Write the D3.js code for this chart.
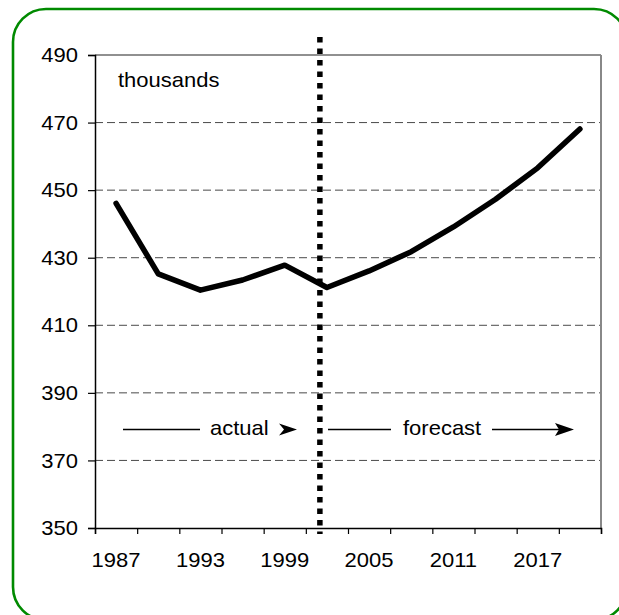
<!DOCTYPE html>
<html>
<head>
<meta charset="utf-8">
<script src="https://cdn.jsdelivr.net/npm/d3@7"></script>
<style>
  html, body { margin: 0; padding: 0; background: #fff; overflow: hidden; }
  svg { display: block; font-family: "Liberation Sans", Arial, sans-serif; }
</style>
</head>
<body>
<svg id="chart" width="619" height="615"></svg>
<script>
// Population, thousands: actual to 2002, forecast afterwards
const years  = [1987, 1990, 1993, 1996, 1999, 2002, 2005, 2008, 2011, 2014, 2017, 2020];
const values = [446.1, 425.2, 420.4, 423.4, 427.8, 421.2, 426.1, 431.8, 439.1, 447.3, 456.6, 468.1];
const yTicks = [350, 370, 390, 410, 430, 450, 470, 490];
const xLabels = [1987, 1993, 1999, 2005, 2011, 2017];
const splitYear = 2001.5;
const unitLabel = "thousands";
const periodLabels = ["actual", "forecast"];

const svg = d3.select("#chart");
const plot = { left: 95, right: 601, top: 55, bottom: 528 };
const step = 3; // years per category slot

const x = d3.scaleLinear()
  .domain([years[0] - step / 2, years[years.length - 1] + step / 2])
  .range([plot.left, plot.right]);
const y = d3.scaleLinear().domain([350, 490]).range([plot.bottom, plot.top]);

const FONT = 20, STRETCH = 1.1;
function label(px, py, str, anchor, baseline) {
  const g = svg.append("g").attr("transform", `translate(${px},${py}) scale(${STRETCH},1)`);
  g.append("text")
    .attr("text-anchor", anchor || "start")
    .attr("dominant-baseline", baseline || "alphabetic")
    .attr("font-size", FONT)
    .attr("fill", "#000")
    .text(str);
  return g;
}

// rounded green frame; its right and bottom edges run off the page
const fr = { l: 13, t: 9, r: 627, b: 620, rad: 33 };
svg.append("path")
  .attr("d", `M${fr.l},${fr.t + fr.rad}
              A${fr.rad},${fr.rad} 0 0 1 ${fr.l + fr.rad},${fr.t}
              L${fr.r - fr.rad},${fr.t}
              A${fr.rad},${fr.rad} 0 0 1 ${fr.r},${fr.t + fr.rad}
              L${fr.r},${fr.b - fr.rad}
              A${fr.rad},${fr.rad} 0 0 1 ${fr.r - fr.rad},${fr.b}
              L${fr.l + fr.rad},${fr.b}
              A${fr.rad},${fr.rad} 0 0 1 ${fr.l},${fr.b - fr.rad} Z`)
  .attr("fill", "none").attr("stroke", "#008a00").attr("stroke-width", 2.6);

// dashed gridlines
svg.append("g").selectAll("line")
  .data(yTicks.filter(d => d > 350 && d < 490))
  .join("line")
  .attr("x1", plot.left).attr("x2", plot.right)
  .attr("y1", d => y(d)).attr("y2", d => y(d))
  .attr("stroke", "#4a4a4a").attr("stroke-width", 1)
  .attr("stroke-dasharray", "8,4");

// plot frame: top and right edges
svg.append("line")
  .attr("x1", plot.left).attr("x2", plot.right)
  .attr("y1", y(490)).attr("y2", y(490))
  .attr("stroke", "#222").attr("stroke-width", 1.2);
svg.append("line")
  .attr("x1", plot.right).attr("x2", plot.right)
  .attr("y1", y(490)).attr("y2", y(350))
  .attr("stroke", "#888").attr("stroke-width", 2);

// y axis
const yAxis = svg.append("g")
  .attr("transform", `translate(${plot.left},0)`)
  .call(d3.axisLeft(y).tickValues(yTicks).tickSize(7).tickFormat(""));
yAxis.select(".domain").attr("stroke", "#000").attr("stroke-width", 1.5);
yAxis.selectAll(".tick line").attr("stroke", "#000").attr("stroke-width", 1.2);
yTicks.forEach(v => label(78, y(v), String(v), "end", "central"));

// x axis: ticks on slot boundaries, labels every other slot
const bounds = d3.range(years.length + 1).map(i => years[0] - step / 2 + i * step);
const xAxis = svg.append("g")
  .attr("transform", `translate(0,${plot.bottom})`)
  .call(d3.axisBottom(x).tickValues(bounds).tickSize(6).tickFormat(""));
xAxis.select(".domain").attr("stroke", "#000").attr("stroke-width", 1.5);
xAxis.selectAll(".tick line").attr("stroke", "#000").attr("stroke-width", 1.2);
xLabels.forEach(yr => label(x(yr), 567, String(yr), "middle"));

// data line
const line = d3.line().x((d, i) => x(years[i])).y(d => y(d));
svg.append("path")
  .datum(values)
  .attr("d", line)
  .attr("fill", "none").attr("stroke", "#000")
  .attr("stroke-width", 5.5)
  .attr("stroke-linejoin", "round").attr("stroke-linecap", "round");

// actual / forecast divider
svg.append("line")
  .attr("x1", x(splitYear)).attr("x2", x(splitYear))
  .attr("y1", 37).attr("y2", 534)
  .attr("stroke", "#000").attr("stroke-width", 5.5)
  .attr("stroke-dasharray", "5.5,6");

// unit label
label(118, 87, unitLabel);

// period annotations with arrows
const arrowY = 429.5;
svg.append("line").attr("x1", 123).attr("x2", 200).attr("y1", arrowY).attr("y2", arrowY)
  .attr("stroke", "#000").attr("stroke-width", 1.3);
label(210, 435, periodLabels[0]);
// stealth arrowhead after "actual"
svg.append("path")
  .attr("d", `M279,${arrowY - 6} L297,${arrowY} L279,${arrowY + 6} L284,${arrowY} Z`)
  .attr("fill", "#000");

svg.append("line").attr("x1", 328).attr("x2", 391).attr("y1", arrowY).attr("y2", arrowY)
  .attr("stroke", "#000").attr("stroke-width", 1.3);
label(403, 435, periodLabels[1]);
svg.append("line").attr("x1", 492).attr("x2", 560).attr("y1", arrowY).attr("y2", arrowY)
  .attr("stroke", "#000").attr("stroke-width", 1.3);
svg.append("path")
  .attr("d", `M555,${arrowY - 6.5} L574,${arrowY} L555,${arrowY + 6.5} L559,${arrowY} Z`)
  .attr("fill", "#000");
</script>
</body>
</html>
